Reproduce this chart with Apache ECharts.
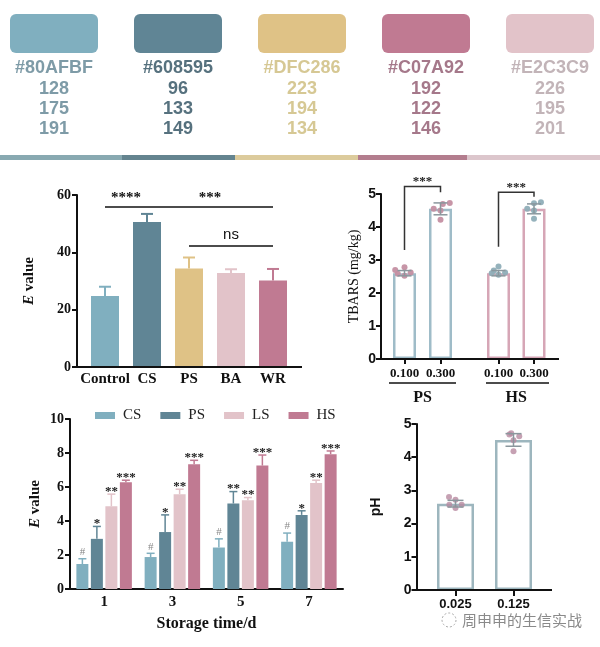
<!DOCTYPE html>
<html><head><meta charset="utf-8">
<script src="https://cdn.jsdelivr.net/npm/echarts@6/dist/echarts.min.js"></script>
<style>html,body{margin:0;padding:0;background:#fff}#c{width:600px;height:647px}</style>
</head><body><div id="c"></div>
<script>
// ---------- palette ----------
const paletteHex = ['#80AFBF','#608595','#DFC286','#C07A92','#E2C3C9'];
const paletteR = [128,96,223,192,226];
const paletteG = [175,133,194,122,195];
const paletteB = [191,149,134,146,201];

// ---------- chart 1 : E value by treatment ----------
const evalCats = ['Control','CS','PS','BA','WR'];
const evalMean = [24.8,50.6,34.4,32.8,30.2];
const evalErr  = [3.2,2.8,3.8,1.3,4.0];
const evalSigLevels = [55.8,55.8,42.2];

// ---------- chart 2 : TBARS ----------
const tbarsCats = ['0.100','0.300'];
const tbarsGroups = ['PS','HS'];
const tbarsPSMean = [2.6,4.55];
const tbarsPSSd   = [0.08,0.18];
const tbarsHSMean = [2.6,4.55];
const tbarsHSSd   = [0.08,0.15];
const tbarsPSDots = [[2.52,2.58,2.62,2.7,2.78],[4.22,4.5,4.55,4.7,4.73]];
const tbarsHSDots = [[2.55,2.6,2.62,2.68,2.8],[4.25,4.5,4.55,4.72,4.75]];
const tbarsBracketPS = [3.3,5.23,5.05];
const tbarsBracketHS = [3.4,5.05,4.92];

// ---------- chart 3 : E value vs storage time ----------
const days = ['1','3','5','7'];
const csMean = [1.47,1.88,2.44,2.78], csErr = [0.31,0.22,0.51,0.51];
const psMean = [2.95,3.35,5.03,4.36], psErr = [0.73,1.01,0.70,0.24];
const lsMean = [4.87,5.58,5.22,6.24], lsErr = [0.71,0.29,0.16,0.16];
const hsMean = [6.28,7.34,7.26,7.93], hsErr = [0.12,0.23,0.62,0.19];
const csSig = ['#','#','#','#'];
const psSig = ['*','*','**','*'];
const lsSig = ['**','**','**','**'];
const hsSig = ['***','***','***','***'];

// ---------- chart 4 : pH ----------
const phCats = ['0.025','0.125'];
const phMean = [2.6,4.52];
const phSd   = [0.1,0.19];
const phDots = [[2.47,2.57,2.57,2.72,2.8],[4.18,4.51,4.63,4.68,4.72]];

const watermark = '周申申的生信实战';

// ---------- styles ----------
const SERIF = '"Liberation Serif","Times New Roman",serif';
const SANS = '"Liberation Sans",Arial,sans-serif';
const INK = '#111';
const paletteTextColors = ['#7E9BA7','#56717E','#D6C894','#A5788A','#C2B4B8'];
const evalColors = [paletteHex[0],paletteHex[1],paletteHex[2],paletteHex[4],paletteHex[3]];

const chart = echarts.init(document.getElementById('c'));

// ---------- graphics (palette + decoration) ----------
const graphics = [];
paletteHex.forEach((hex,i)=>{
  const x0 = 10 + i*124;
  graphics.push({type:'rect', shape:{x:x0,y:14,width:88,height:39,r:6}, style:{fill:hex}});
  [hex, paletteR[i], paletteG[i], paletteB[i]].forEach((t,j)=>{
    graphics.push({type:'text', x:x0+44, y:[68,89,109,129][j],
      style:{text:String(t), fill:paletteTextColors[i], font:'bold 18px '+SANS,
        align:'center', verticalAlign:'middle', textAlign:'center', textVerticalAlign:'middle'}});
  });
});
const stripEdges = [0,122,235,358,467,600];
const stripColors = ['#88A9B1','#64848F','#DCCB9C','#B37D8E','#DCC6CC'];
stripColors.forEach((c,i)=>{
  graphics.push({type:'rect', shape:{x:stripEdges[i],y:155,width:stripEdges[i+1]-stripEdges[i],height:5}, style:{fill:c}});
});
function hline(x1,x2,y,w){ graphics.push({type:'line', shape:{x1,y1:y,x2,y2:y}, style:{stroke:INK,lineWidth:w||2}, z:10}); }
hline(77,302,367);   // chart1 x axis line
hline(381,559,359);  // chart2 x axis line
hline(416,552,590);  // chart4 x axis line
hline(389,456,383,1.5); // PS underline
hline(486,549,383,1.5); // HS underline
graphics.push({type:'circle', shape:{cx:449,cy:620,r:7}, style:{fill:'none',stroke:'#aaa',lineWidth:1,lineDash:[2,2]}, z:20});
graphics.push({type:'text', x:462, y:620, style:{text:watermark, fill:'#8a8a8a', font:'15px "Noto Sans CJK SC"', align:'left', verticalAlign:'middle', textAlign:'left', textVerticalAlign:'middle'}, z:20});

// ---------- helpers ----------
function errSeries(xi, yi, rows, opts){
  return {type:'custom', xAxisIndex:xi, yAxisIndex:yi, z:5, silent:true,
    encode:{x:0,y:1}, data:rows,
    renderItem:(p,api)=>{
      const c = api.value(0), m = api.value(1), e = api.value(2);
      const base = api.coord([c,m]);
      const top = api.coord([c,m+e]);
      const bot = opts.both ? api.coord([c,m-e]) : base;
      const cx = base[0] + (opts.offset||0);
      const col = typeof opts.color === 'function' ? opts.color(p.dataIndex) : opts.color;
      const hw = opts.cap/2;
      const st = {stroke:col, lineWidth:opts.width||1.5};
      const ch = [
        {type:'line', shape:{x1:cx,y1:bot[1],x2:cx,y2:top[1]}, style:st},
        {type:'line', shape:{x1:cx-hw,y1:top[1],x2:cx+hw,y2:top[1]}, style:st}
      ];
      if (opts.both) ch.push({type:'line', shape:{x1:cx-hw,y1:bot[1],x2:cx+hw,y2:bot[1]}, style:st});
      if (opts.sig){
        const s = opts.sig[p.dataIndex];
        const isHash = s === '#';
        ch.push({type:'text', style:{text:s, x:cx, y:top[1]+(isHash?-1:4),
          font:(isHash?'11px ':'bold 13px ')+SERIF, fill:isHash?'#888':'#222',
          align:'center', verticalAlign:'bottom'}});
      }
      return {type:'group', children:ch};
    }};
}
function bracketSeries(ax, lv){
  return {type:'custom', xAxisIndex:ax, yAxisIndex:ax, silent:true, clip:false, z:6,
    encode:{x:0,y:2}, data:[[0,1,lv[0],lv[1],lv[2]]],
    renderItem:(p,api)=>{
      const a = api.coord([api.value(0),api.value(2)]);
      const b = api.coord([api.value(0),api.value(3)]);
      const c = api.coord([api.value(1),api.value(3)]);
      const d = api.coord([api.value(1),api.value(4)]);
      return {type:'group', children:[
        {type:'polyline', shape:{points:[a,b,c,d]}, style:{stroke:'#333', fill:null, lineWidth:1.5}},
        {type:'text', style:{text:'***', x:(b[0]+c[0])/2, y:b[1]+2, align:'center', verticalAlign:'bottom',
          font:'bold 13px '+SERIF, fill:'#222'}}
      ]};
    }};
}
const catLabel = (size, fam, margin)=>({fontFamily:fam, fontWeight:'bold', fontSize:size, color:INK, margin:margin, interval:0, hideOverlap:false});
const yTick = {show:true, length:5, lineStyle:{width:2,color:INK}};
const yLine = {show:true, lineStyle:{width:2,color:INK}};

const groups3 = [
  {name:'CS', mean:csMean, err:csErr, sig:csSig, color:paletteHex[0]},
  {name:'PS', mean:psMean, err:psErr, sig:psSig, color:paletteHex[1]},
  {name:'LS', mean:lsMean, err:lsErr, sig:lsSig, color:paletteHex[4]},
  {name:'HS', mean:hsMean, err:hsErr, sig:hsSig, color:paletteHex[3]}
];
const barW3 = 12, gap3 = 2.5;

const series = [];
// chart 1
series.push({type:'bar', name:'evalBar', xAxisIndex:0, yAxisIndex:0, barWidth:28,
  data: evalMean.map((v,i)=>({value:v, itemStyle:{color:evalColors[i]}})),
  markLine:{symbol:'none', silent:true, lineStyle:{color:INK,width:1.5,type:'solid'},
    label:{show:true, position:'insideMiddleTop', distance:1, color:INK, fontFamily:SERIF, fontWeight:'bold', fontSize:15},
    data:[
      [{coord:[0,evalSigLevels[0]], label:{formatter:'****'}},{coord:[1,evalSigLevels[0]]}],
      [{coord:[1,evalSigLevels[1]], label:{formatter:'***'}},{coord:[4,evalSigLevels[1]]}],
      [{coord:[2,evalSigLevels[2]], label:{formatter:'ns', fontFamily:SANS, fontWeight:'normal', fontSize:15, distance:4}},{coord:[4,evalSigLevels[2]]}]
    ]}
});
series.push(errSeries(0,0, evalMean.map((m,i)=>[i,m,evalErr[i]]), {color:i=>evalColors[i], cap:12, width:2}));

// chart 2
[['PS',tbarsPSMean,tbarsPSSd,tbarsPSDots,'#9FBCC8','#C48FA2',tbarsBracketPS],
 ['HS',tbarsHSMean,tbarsHSSd,tbarsHSDots,'#D6A6B6','#8FAEB8',tbarsBracketHS]].forEach((g,k)=>{
  const ax = k+1;
  series.push({type:'bar', name:'tbars'+g[0], xAxisIndex:ax, yAxisIndex:ax, barWidth:23,
    itemStyle:{color:'rgba(255,255,255,0)', borderColor:g[4], borderWidth:2.5},
    data:g[1]});
  series.push({type:'scatter', name:'tbarsDots'+g[0], xAxisIndex:ax, yAxisIndex:ax, symbolSize:6, z:4,
    itemStyle:{color:g[5], opacity:0.95},
    data:g[3].flatMap((arr,ci)=>arr.map(v=>[ci,v]))});
  series.push(errSeries(ax,ax, g[1].map((m,i)=>[i,m,g[2][i]]), {color:'#8A979D', cap:14, width:1.5, both:true}));
  series.push(bracketSeries(ax, g[6]));
});

// chart 3
groups3.forEach((g,k)=>{
  series.push({type:'bar', name:g.name, xAxisIndex:3, yAxisIndex:3, barWidth:barW3, barGap:(gap3/barW3*100)+'%',
    itemStyle:{color:g.color}, data:g.mean});
});
groups3.forEach((g,k)=>{
  series.push(errSeries(3,3, g.mean.map((m,i)=>[i,m,g.err[i]]),
    {color:g.color, cap:8, width:1.5, offset:(k-1.5)*(barW3+gap3), sig:g.sig}));
});

// chart 4
series.push({type:'bar', name:'phBar', xAxisIndex:4, yAxisIndex:4, barWidth:37,
  itemStyle:{color:'rgba(255,255,255,0)', borderColor:'#9DB6BE', borderWidth:2.5}, data:phMean});
series.push({type:'scatter', name:'phDots', xAxisIndex:4, yAxisIndex:4, symbolSize:6, z:4,
  itemStyle:{color:'#B88AA0'}, data:phDots.flatMap((arr,ci)=>arr.map(v=>[ci,v]))});
series.push(errSeries(4,4, phMean.map((m,i)=>[i,m,phSd[i]]), {color:'#8A979D', cap:16, width:1.5, both:true}));

const jit = {jitter:22, jitterOverlap:false, jitterMargin:1};

const option = {
  animation:false,
  backgroundColor:'#fff',
  graphic:{elements:graphics},
  legend:{data:['CS','PS','LS','HS'], left:90, top:403, itemWidth:20, itemHeight:7, itemGap:19,
    icon:'rect', textStyle:{fontFamily:SERIF, fontSize:15, color:'#222', padding:[0,0,0,3]}},
  grid:[
    {left:84, top:195, width:210, height:172},
    {left:386.5, top:194, width:72, height:165},
    {left:480.75, top:194, width:71, height:165},
    {left:70, top:419, width:273, height:170},
    {left:426.5, top:424, width:116, height:166}
  ],
  xAxis:[
    {gridIndex:0, type:'category', data:evalCats, axisLine:{show:false}, axisTick:{show:false},
      axisLabel:catLabel(15,SERIF,5)},
    Object.assign({gridIndex:1, type:'category', data:tbarsCats, axisLine:{show:false},
      axisTick:{show:true, alignWithLabel:true, length:5, lineStyle:{width:2,color:INK}},
      axisLabel:catLabel(13,SERIF,8),
      name:tbarsGroups[0], nameLocation:'middle', nameGap:31,
      nameTextStyle:{fontFamily:SERIF, fontWeight:'bold', fontSize:16, color:INK}}, jit),
    Object.assign({gridIndex:2, type:'category', data:tbarsCats, axisLine:{show:false},
      axisTick:{show:true, alignWithLabel:true, length:5, lineStyle:{width:2,color:INK}},
      axisLabel:catLabel(13,SERIF,8),
      name:tbarsGroups[1], nameLocation:'middle', nameGap:31,
      nameTextStyle:{fontFamily:SERIF, fontWeight:'bold', fontSize:16, color:INK}}, jit),
    {gridIndex:3, type:'category', data:days, axisLine:yLine, axisTick:{show:false},
      axisLabel:catLabel(15,SERIF,6),
      name:'Storage time/d', nameLocation:'middle', nameGap:27,
      nameTextStyle:{fontFamily:SERIF, fontWeight:'bold', fontSize:16, color:INK}},
    Object.assign({gridIndex:4, type:'category', data:phCats, axisLine:{show:false},
      axisTick:{show:true, alignWithLabel:true, length:6, lineStyle:{width:2,color:INK}},
      axisLabel:catLabel(13,SANS,8)}, jit)
  ],
  yAxis:[
    {gridIndex:0, type:'value', min:0, max:60, interval:20, offset:7, axisLine:yLine, axisTick:yTick,
      splitLine:{show:false}, axisLabel:catLabel(14,SERIF,6),
      name:'{i|E} value', nameLocation:'middle', nameGap:40,
      nameTextStyle:{fontFamily:SERIF, fontWeight:'bold', fontSize:15, color:INK,
        rich:{i:{fontFamily:SERIF, fontWeight:'bold', fontStyle:'italic', fontSize:15, color:INK}}}},
    {gridIndex:1, type:'value', min:0, max:5, interval:1, offset:5.5, axisLine:yLine, axisTick:yTick,
      splitLine:{show:false}, axisLabel:catLabel(14,SANS,5),
      name:'TBARS (mg/kg)', nameLocation:'middle', nameGap:20,
      nameTextStyle:{fontFamily:SERIF, fontSize:14, color:INK}},
    {gridIndex:2, type:'value', min:0, max:5, interval:1, show:false, splitLine:{show:false}},
    {gridIndex:3, type:'value', min:0, max:10, interval:2, axisLine:yLine, axisTick:yTick,
      splitLine:{show:false}, axisLabel:catLabel(14,SERIF,6),
      name:'{i|E} value', nameLocation:'middle', nameGap:27,
      nameTextStyle:{fontFamily:SERIF, fontWeight:'bold', fontSize:15, color:INK,
        rich:{i:{fontFamily:SERIF, fontWeight:'bold', fontStyle:'italic', fontSize:15, color:INK}}}},
    {gridIndex:4, type:'value', min:0, max:5, interval:1, offset:10, axisLine:yLine, axisTick:yTick,
      splitLine:{show:false}, axisLabel:catLabel(14,SANS,5),
      name:'pH', nameLocation:'middle', nameGap:33,
      nameTextStyle:{fontFamily:SANS, fontWeight:'bold', fontSize:14, color:INK}}
  ],
  series:series
};
chart.setOption(option);
</script></body></html>
